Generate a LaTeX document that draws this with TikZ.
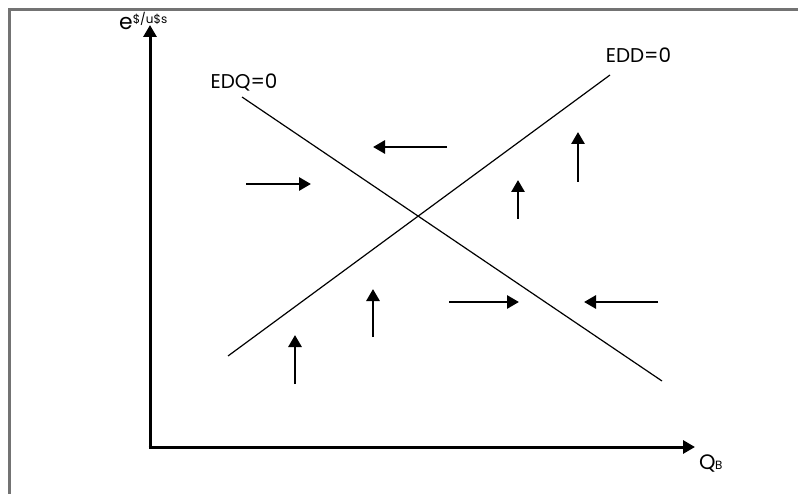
\documentclass[tikz,border=0pt]{standalone}
\usepackage{fontspec}
\setmainfont{Poppins}
\usetikzlibrary{arrows.meta}
\tikzset{
  axis/.style={line width=3bp, -{Triangle[length=12bp,width=13bp]}},
  flow/.style={line width=2.8bp, -{Triangle[length=12bp,width=13bp]}},
  curve/.style={line width=1.2bp},
  lbl/.style={font=\fontsize{20}{22}\selectfont, inner sep=0pt},
  frame/.style={draw=gray!90!black, line width=3bp}
}
\begin{document}
\begin{tikzpicture}[x=1bp,y=-1bp]
\useasboundingbox (0,0) rectangle (798,494);
% frame
\coordinate (ftl) at (9.5,9.5);
\coordinate (ftr) at (799,9.5);
\coordinate (fbl) at (9.5,495);
\draw[frame] (fbl) -- (ftl) -- (ftr);
% axes
\coordinate (o) at (150,447);
\coordinate (ytop) at (150,25);
\coordinate (xend) at (695,447);
\draw[axis] ([yshift=-1.5bp]o) -- (ytop);
\draw[axis] ([xshift=-1.5bp]o) -- (xend);
\node[lbl, anchor=base west] (ylab) at (119,30) {\fontsize{22}{24}\selectfont e\raisebox{6bp}{\fontsize{12}{13}\selectfont\$/u\$s}};
\node[lbl, anchor=base west] (xlab) at (699,469) {\fontsize{21}{23}\selectfont Q\kern-0.5bp{\fontsize{12}{13}\selectfont B}};
% curves
\coordinate (q1) at (242,97);
\coordinate (q2) at (662,381);
\coordinate (d1) at (228,356);
\coordinate (d2) at (610,75);
\draw[curve] (q1) -- (q2);
\draw[curve] (d1) -- (d2);
\node[lbl] (edq) at (244,83) {EDQ=0};
\node[lbl] (edd) at (638.5,55) {EDD=0};
% flow arrows
\coordinate (a1s) at (246,184); \coordinate (a1e) at (311,184);
\coordinate (a2s) at (447,147); \coordinate (a2e) at (373,147);
\coordinate (a3s) at (578,182); \coordinate (a3e) at (578,132);
\coordinate (a4s) at (518,219); \coordinate (a4e) at (518,180);
\coordinate (a5s) at (373,337); \coordinate (a5e) at (373,289);
\coordinate (a6s) at (295,384); \coordinate (a6e) at (295,335);
\coordinate (a7s) at (449,302); \coordinate (a7e) at (519,302);
\coordinate (a8s) at (658,302); \coordinate (a8e) at (584,302);
\foreach \i in {1,...,8}{\draw[flow] (a\i s) -- (a\i e);}
\end{tikzpicture}
\end{document}
